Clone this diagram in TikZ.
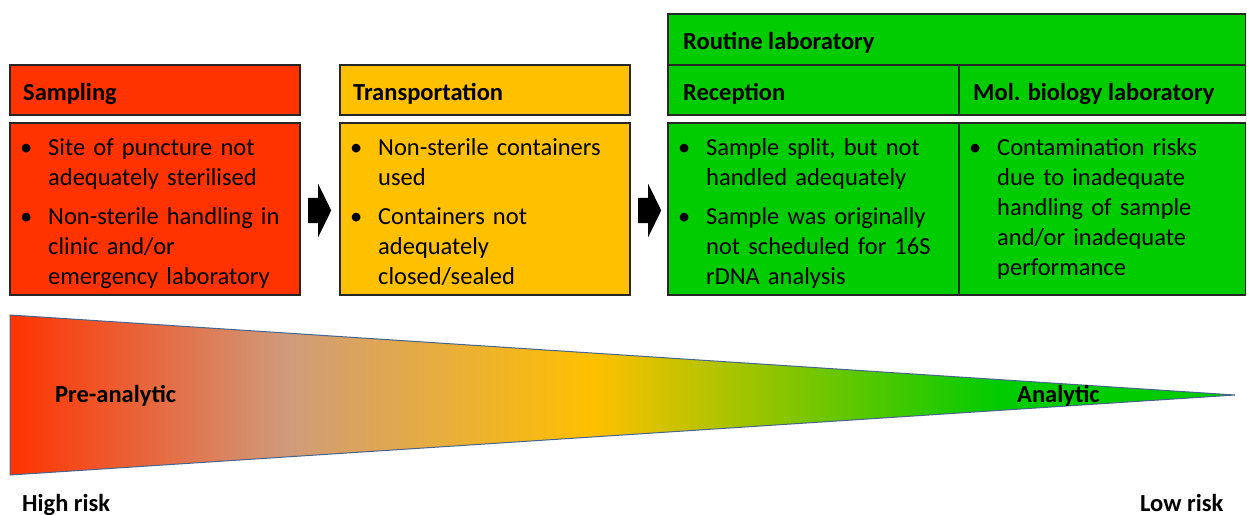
\documentclass[tikz,border=0pt]{standalone}
\usepackage{fontspec}
\setmainfont{Carlito}
\usetikzlibrary{shapes.arrows}
\definecolor{cred}{HTML}{FF3300}
\definecolor{cyel}{HTML}{FFC000}
\definecolor{cgrn}{HTML}{00CC00}
\definecolor{ctan}{HTML}{CF9B7B}
\definecolor{cedge}{RGB}{70,100,140}
\pgfdeclarehorizontalshading{risk}{100bp}{color(0bp)=(cred); color(25bp)=(cred); color(36.3bp)=(ctan); color(48.8bp)=(cyel); color(65.4bp)=(cgrn); color(100bp)=(cgrn)}
\newcommand{\bitem}[1]{\hangindent=28pt\hangafter=1\noindent\makebox[28pt][l]{\textbullet}\strut#1\par}
\begin{document}
\begin{tikzpicture}[x=1pt,y=-1pt,
  every node/.style={font=\fontsize{24.5}{30}\selectfont},
  box/.style={draw=black!85, line width=1.2pt, rectangle, inner sep=0pt, outer sep=0pt, anchor=north west},
  headtext/.style={anchor=base west, inner sep=0pt, font=\fontsize{24.5}{30}\selectfont\bfseries},
  bodytext/.style={anchor=north west, inner sep=0pt, align=left, text width=285pt},
  blockarrow/.style={single arrow, fill=black, draw=none, inner xsep=0pt, inner ysep=12.5pt, minimum height=23pt, single arrow head extend=14pt, single arrow tip angle=128, anchor=tail}
]
\useasboundingbox (0,0) rectangle (1247,514);

% Sampling
\node[box, fill=cred, minimum width=290pt, minimum height=50pt] (samphead) at (10,65) {};
\node[box, fill=cred, minimum width=290pt, minimum height=172pt] (sampbody) at (10,123) {};
\node[headtext] (samplabel) at (23,100) {Sampling};
\node[bodytext] (samptext) at (20,134) {\bitem{Site of puncture not\newline adequately sterilised}\vskip9pt\bitem{Non-sterile handling in\newline clinic and/or\newline emergency laboratory}};

% Transportation
\node[box, fill=cyel, minimum width=290pt, minimum height=50pt] (transhead) at (340,65) {};
\node[box, fill=cyel, minimum width=290pt, minimum height=172pt] (transbody) at (340,123) {};
\node[headtext] (translabel) at (353,100) {Transportation};
\node[bodytext] (transtext) at (350,134) {\bitem{Non-sterile containers\newline used}\vskip9pt\bitem{Containers not\newline adequately\newline closed/sealed}};

% Routine laboratory
\node[box, fill=cgrn, minimum width=577.5pt, minimum height=51pt] (routhead) at (668,14) {};
\node[headtext] (routlabel) at (683,49) {Routine laboratory};
\node[box, fill=cgrn, minimum width=291pt, minimum height=50pt] (recephead) at (668,65) {};
\node[box, fill=cgrn, minimum width=286.5pt, minimum height=50pt] (molhead) at (959,65) {};
\node[headtext] (receplabel) at (683,100) {Reception};
\node[headtext] (mollabel) at (973,100) {Mol. biology laboratory};
\node[box, fill=cgrn, minimum width=291pt, minimum height=172pt] (recepbody) at (668,123) {};
\node[box, fill=cgrn, minimum width=286.5pt, minimum height=172pt] (molbody) at (959,123) {};
\node[bodytext] (receptext) at (678,134) {\bitem{Sample split, but not\newline handled adequately}\vskip9pt\bitem{Sample was originally\newline not scheduled for 16S\newline rDNA analysis}};
\node[bodytext] (moltext) at (969,134) {\bitem{Contamination risks\newline due to inadequate\newline handling of sample\newline and/or inadequate\newline performance}};

% block arrows
\node[blockarrow] (arr1) at (308,210.5) {};
\node[blockarrow] (arr2) at (638,210.5) {};

% risk wedge
\shade[shading=risk, draw=cedge, line width=1pt] (10,315) -- (1235,395) -- (10,475) -- cycle;
\node[headtext] (pre) at (55,402) {Pre-analytic};
\node[headtext] (ana) at (1017,402) {Analytic};
\node[headtext] (high) at (22,511) {High risk};
\node[headtext] (low) at (1140,511) {Low risk};
\end{tikzpicture}
\end{document}
